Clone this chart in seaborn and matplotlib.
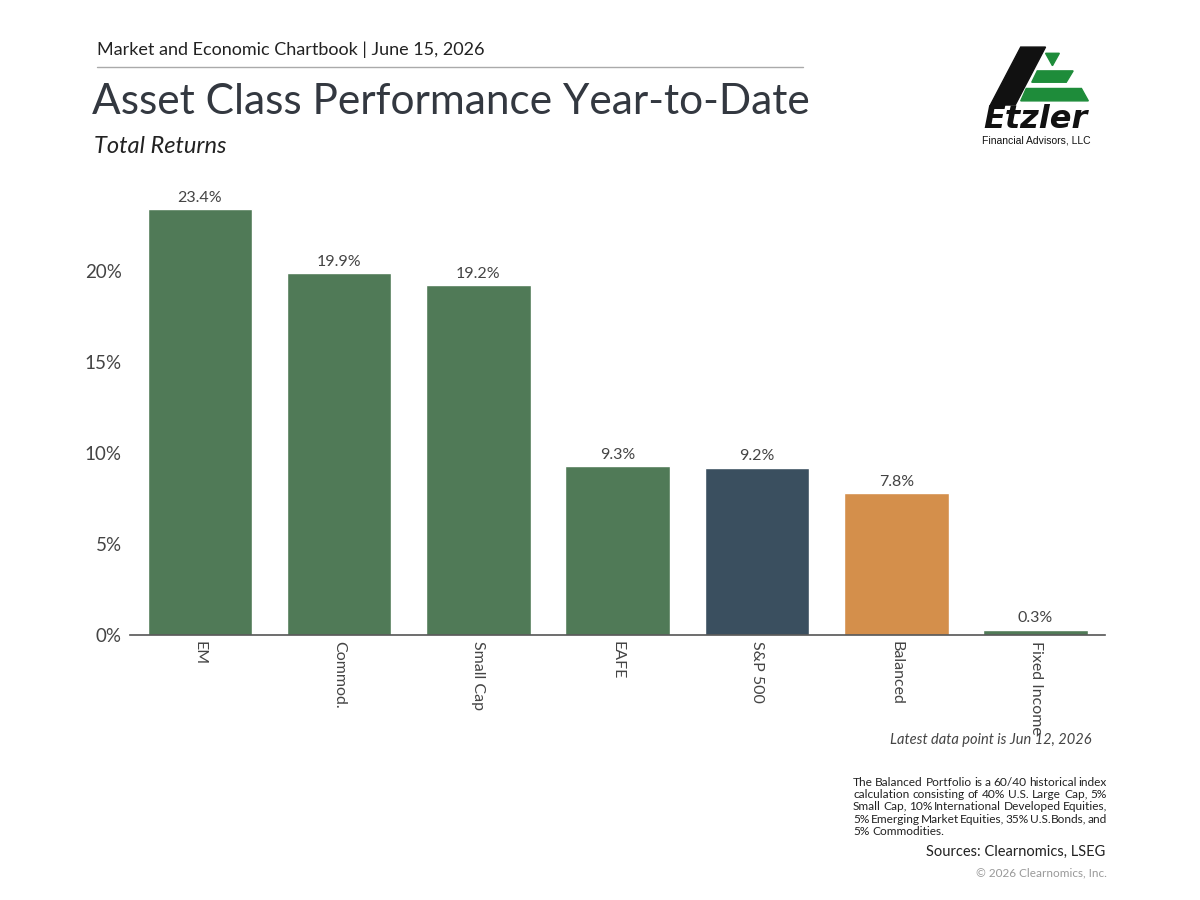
import matplotlib
matplotlib.use("Agg")
import matplotlib.pyplot as plt
import seaborn as sns
import pandas as pd
from matplotlib.patches import Polygon

categories = ["EM", "Commod.", "Small Cap", "EAFE", "S&P 500", "Balanced", "Fixed Income"]
returns = [23.4, 19.9, 19.2, 9.3, 9.2, 7.8, 0.3]
bar_colors = ["#507A57", "#507A57", "#507A57", "#507A57", "#3A4F5F", "#D48F4B", "#507A57"]
yticks = [0, 5, 10, 15, 20]

sns.set_theme(style="white")
plt.rcParams['font.family'] = ['Lato', 'DejaVu Sans']
txt = "#333840"

df = pd.DataFrame({"cat": categories, "ret": returns})

fig = plt.figure(figsize=(12, 9), dpi=100, facecolor="white")
ax = fig.add_axes([0.1085, 0.2944, 0.8125, 0.4956])
sns.barplot(data=df, x="cat", y="ret", hue="cat", palette=bar_colors, legend=False,
            width=0.75, saturation=1, ax=ax)
ax.set_xlim(-0.5, 6.5)
ax.set_ylim(0, 24.5)
ax.set_yticks(yticks)
ax.set_yticklabels([f"{t}%" for t in yticks], fontsize=13.5, color="#444")
ax.set_xticks(range(len(categories)))
ax.set_xticklabels(categories, rotation=-90, fontsize=11.5, color="#444", va="top")
ax.set_xlabel("")
ax.set_ylabel("")
for s in ["top", "right", "left"]:
    ax.spines[s].set_visible(False)
ax.spines["bottom"].set_color("#555")
ax.spines["bottom"].set_linewidth(1.2)
ax.tick_params(axis="y", length=0, pad=6)
ax.tick_params(axis="x", length=0, pad=4)

for i, v in enumerate(returns):
    ax.annotate(f"{v}%", (i, v), xytext=(0, 3), textcoords="offset points",
                ha="center", va="bottom", fontsize=11.5, color="#444")

# header
fig.text(0.081, 0.945, "Market and Economic Chartbook | June 15, 2026", fontsize=13, color="#222", va="center")
fig.add_artist(plt.Line2D([0.081, 0.669], [0.926, 0.926], color="#AAAAAA", lw=1))
fig.text(0.077, 0.887, "Asset Class Performance Year-to-Date", fontsize=30.5, color=txt, va="center")
fig.text(0.078, 0.837, "Total Returns", fontsize=17, style="italic", color="#222", va="center")

# logo
lx = fig.add_axes([0.80, 0.835, 0.115, 0.115])
lx.set_xlim(0, 1)
lx.set_ylim(0, 1)
lx.axis("off")
lx.add_patch(Polygon([[0.22, 0.42], [0.40, 0.42], [0.62, 0.98], [0.44, 0.98]], closed=True, color="#111"))
lx.add_patch(Polygon([[0.62, 0.92], [0.72, 0.92], [0.67, 0.80]], closed=True, color="#1E8C3A"))
lx.add_patch(Polygon([[0.56, 0.75], [0.82, 0.75], [0.77, 0.64], [0.52, 0.64]], closed=True, color="#1E8C3A"))
lx.add_patch(Polygon([[0.48, 0.58], [0.88, 0.58], [0.93, 0.46], [0.44, 0.46]], closed=True, color="#1E8C3A"))
lx.text(0.55, 0.28, "Etzler", fontsize=23, fontweight="heavy", style="italic", ha="center", va="center",
        family=["DejaVu Sans"], color="#111")
lx.text(0.55, 0.08, "Financial Advisors, LLC", fontsize=7.5, ha="center", va="center",
        family=["Liberation Sans"], color="#111")

# footer
fig.text(0.91, 0.178, "Latest data point is Jun 12, 2026", fontsize=10.5, style="italic", color="#444",
         ha="right", va="center")

note_lines = ["The Balanced Portfolio is a 60/40 historical index",
              "calculation consisting of 40% U.S. Large Cap, 5%",
              "Small Cap, 10% International Developed Equities,",
              "5% Emerging Market Equities, 35% U.S. Bonds, and",
              "5% Commodities."]
x0, x1 = 853, 1107
y_top = 782
line_h = 12.4
fig.canvas.draw()
renderer = fig.canvas.get_renderer()
for li, line in enumerate(note_lines):
    y = 1 - (y_top + li * line_h) / 900
    words = line.split(" ")
    arts = [fig.text(0, y, w, fontsize=8.6, color="#222", va="center") for w in words]
    widths = [a.get_window_extent(renderer).width for a in arts]
    if li < len(note_lines) - 1:
        gap = (x1 - x0 - sum(widths)) / (len(words) - 1)
    else:
        gap = 3.0
    xp = x0
    for a, w in zip(arts, widths):
        a.set_x(xp / 1200)
        xp += w + gap

fig.text(0.921, 0.054, "Sources: Clearnomics, LSEG", fontsize=10.5, color="#222", ha="right", va="center")
fig.text(0.922, 0.030, "\u00a9 2026 Clearnomics, Inc.", fontsize=8.5, color="#999", ha="right", va="center")

fig.savefig("out.png", dpi=100, facecolor="white")
